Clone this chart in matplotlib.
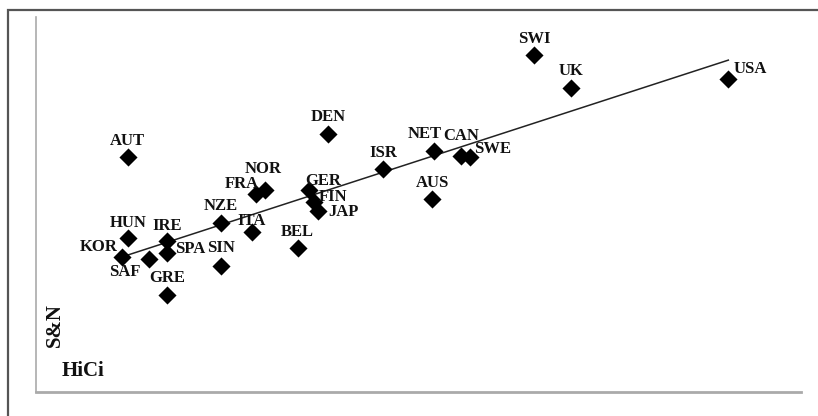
import matplotlib
matplotlib.use("Agg")
import matplotlib.pyplot as plt
from matplotlib.patches import Rectangle

countries = ["AUT", "DEN", "ISR", "NOR", "FRA", "GER", "FIN", "JAP", "NZE", "ITA",
             "BEL", "HUN", "IRE", "SPA", "KOR", "SAF", "SIN", "GRE", "SWI", "UK",
             "USA", "NET", "CAN", "SWE", "AUS"]
hici = [12.0, 38.2, 45.4, 29.9, 28.8, 35.7, 36.3, 36.9, 24.2, 28.2,
        34.2, 12.0, 17.1, 17.1, 11.2, 14.8, 24.2, 17.1, 65.1, 69.9,
        90.5, 52.0, 55.6, 56.7, 51.8]
sn = [62.7, 68.8, 59.5, 53.9, 52.8, 53.9, 50.7, 48.3, 45.1, 42.7,
      38.4, 41.1, 40.3, 37.1, 36.0, 35.5, 33.6, 25.9, 89.9, 81.1,
      83.5, 64.3, 62.9, 62.7, 51.5]
trend_x = [11.2, 90.5]
trend_y = [36.0, 88.5]

# label offsets in pixels (dx, dy) relative to marker, y up
offsets = {
    "AUT": (0, 16), "DEN": (0, 17), "ISR": (0, 16), "NOR": (-2, 21), "FRA": (-14, 10),
    "GER": (14, 9), "FIN": (19, 5), "JAP": (25, -1), "NZE": (0, 17), "ITA": (0, 11),
    "BEL": (0, 16), "HUN": (0, 15), "IRE": (0, 15), "SPA": (23, 4), "KOR": (-23, 10),
    "SAF": (-24, -13), "SIN": (0, 18), "GRE": (0, 17), "SWI": (0, 16), "UK": (0, 17),
    "USA": (22, 10), "NET": (-9, 17), "CAN": (0, 20), "SWE": (23, 8), "AUS": (0, 16),
}

W, H = 818, 416
fig = plt.figure(figsize=(W / 100, H / 100), dpi=100)
fig.patch.set_facecolor("white")

# outer frame
fig.patches.append(Rectangle((8 / W, -0.2), 1.2, (H - 10) / H + 0.2, transform=fig.transFigure,
                             fill=False, edgecolor="#555555", linewidth=1.6))

ax = fig.add_axes([36 / W, (H - 392) / H, (801 - 36) / W, (392 - 17) / H])
ax.set_xlim(0, 100)
ax.set_ylim(0, 100)
for s in ["top", "right"]:
    ax.spines[s].set_visible(False)
ax.spines["left"].set_color("#aaaaaa")
ax.spines["left"].set_linewidth(1.2)
ax.spines["bottom"].set_color("#aaaaaa")
ax.spines["bottom"].set_linewidth(2.0)
ax.set_xticks([])
ax.set_yticks([])

ax.plot(trend_x, trend_y, color="#222222", linewidth=1.1, zorder=2)
ax.scatter(hici, sn, marker="D", s=85, color="black", zorder=3, linewidths=0)

font = dict(family="Liberation Serif", fontweight="bold", fontsize=12)
for c, x, y in zip(countries, hici, sn):
    dx, dy = offsets[c]
    ax.annotate(c, (x, y), xytext=(dx * 0.72, dy * 0.72), textcoords="offset points",
                ha="center", va="center", color="#111111", **font)

fig.text(55 / W, 1 - 325 / H, "S&N", rotation=90, ha="center", va="center",
         family="Liberation Serif", fontweight="bold", fontsize=15, color="#111111")
fig.text(62 / W, 1 - 371 / H, "HiCi", ha="left", va="center",
         family="Liberation Serif", fontweight="bold", fontsize=15, color="#111111")

fig.savefig("out.png", dpi=100, facecolor="white")
